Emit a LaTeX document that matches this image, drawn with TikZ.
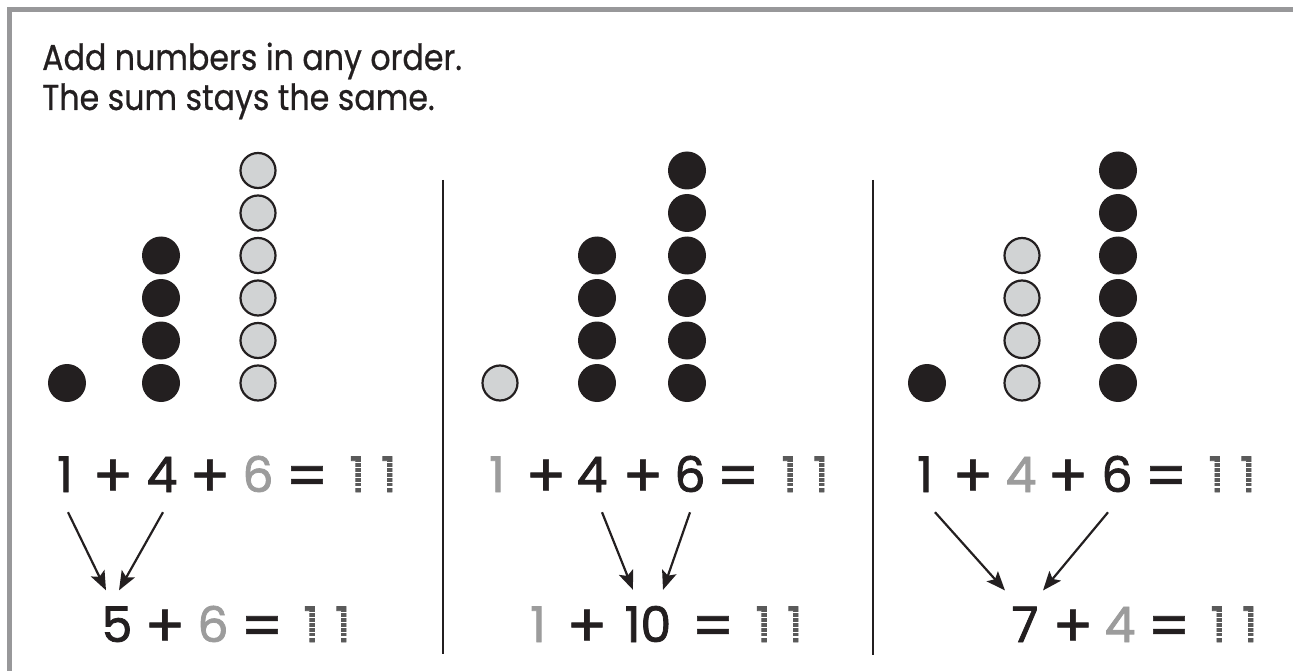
\documentclass[tikz,border=0pt]{standalone}
\usepackage{fontspec}
\setmainfont{Poppins}
\newfontfamily\headfont[FakeStretch=0.88,FakeBold=0.6]{Poppins}
\newfontfamily\tokfont[FakeBold=1.6]{Poppins}
\newfontfamily\opfont[FakeBold=1.0]{Poppins}
\usetikzlibrary{arrows.meta}
\definecolor{ink}{HTML}{231F20}
\definecolor{lgray}{HTML}{9C9C9C}
\definecolor{dgray}{HTML}{5A5A5A}
\definecolor{dotfill}{HTML}{D1D3D4}
\definecolor{frame}{HTML}{98989A}
\tikzset{
  head/.style={anchor=base west,inner sep=0pt,text=ink,font=\headfont\fontsize{36}{40}\selectfont},
  tok/.style={anchor=base,inner sep=0pt,text=ink,font=\tokfont\fontsize{49}{52}\selectfont},
  op/.style={anchor=base,inner sep=0pt,text=ink,font=\opfont\fontsize{60}{62}\selectfont,yshift=-5pt},
  gtok/.style={tok,text=lgray},
  ans/.style={tok,text=dgray},
  bdot/.style={circle,fill=ink,minimum size=38pt,inner sep=0pt},
  gdot/.style={circle,fill=dotfill,draw=ink,line width=2.2pt,minimum size=35pt,inner sep=0pt},
  sep/.style={draw=ink,line width=1.6pt},
  arr/.style={draw=ink,line width=2.2pt,-{Stealth[length=19pt,width=15pt,inset=4pt]}},
  gap/.style={draw=white,line width=1.4pt}
}
\newcommand{\dashify}[1]{%
  \foreach \k in {1,...,6}
    \draw[gap] ([yshift=\k*4.9pt]#1.base west) -- ([yshift=\k*4.9pt]#1.base east);}
\begin{document}
\begin{tikzpicture}[x=1pt,y=-1pt]
\useasboundingbox (0,0) rectangle (1293,671);
% frame
\draw[frame,line width=5pt] (9.5,671) -- (9.5,9.5) -- (1293,9.5);
% heading
\node[head] (h1) at (42,70) {Add numbers in any order.};
\node[head] (h2) at (42,110) {The sum stays the same.};
% separators
\coordinate (s1t) at (443,180); \coordinate (s1b) at (443,654);
\coordinate (s2t) at (873,180); \coordinate (s2b) at (873,655);
\draw[sep] (s1t) -- (s1b);
\draw[sep] (s2t) -- (s2b);
% panel 1 dots
\node[bdot] (d1a) at (67,383) {};
\foreach \i in {0,...,3} \node[bdot] (d1b\i) at (161,{383-42.5*\i}) {};
\foreach \i in {0,...,5} \node[gdot] (d1c\i) at (258,{383-42.5*\i}) {};
% panel 2 dots
\node[gdot] (d2a) at (500,383) {};
\foreach \i in {0,...,3} \node[bdot] (d2b\i) at (597,{383-42.5*\i}) {};
\foreach \i in {0,...,5} \node[bdot] (d2c\i) at (687,{383-42.5*\i}) {};
% panel 3 dots
\node[bdot] (d3a) at (927,383) {};
\foreach \i in {0,...,3} \node[gdot] (d3b\i) at (1022,{383-42.5*\i}) {};
\foreach \i in {0,...,5} \node[bdot] (d3c\i) at (1118,{383-42.5*\i}) {};
% panel 1 equations
\node[tok] (p1a) at (65,492) {1};
\node[op] (p1p1) at (113,492) {+};
\node[tok] (p1b) at (162,492) {4};
\node[op] (p1p2) at (210,492) {+};
\node[gtok] (p1c) at (258,492) {6};
\node[op] (p1e) at (307,492) {=};
\node[ans] (p1s) at (373,492) {1\kern16pt1};
\node[tok] (q1a) at (117,642) {5};
\node[op] (q1p) at (165,642) {+};
\node[gtok] (q1b) at (213,642) {6};
\node[op] (q1e) at (262,642) {=};
\node[ans] (q1s) at (327,642) {1\kern16pt1};
\draw[arr] ([xshift=3pt,yshift=-20pt]p1a.south) -- ([xshift=-11pt,yshift=16pt]q1a.north);
\draw[arr] ([xshift=1pt,yshift=-20pt]p1b.south) -- ([xshift=2pt,yshift=16pt]q1a.north);
% panel 2 equations
\node[gtok] (p2a) at (497,492) {1};
\node[op] (p2p1) at (546,492) {+};
\node[tok] (p2b) at (592,492) {4};
\node[op] (p2p2) at (643,492) {+};
\node[tok] (p2c) at (690,492) {6};
\node[op] (p2e) at (738,492) {=};
\node[ans] (p2s) at (805,492) {1\kern16pt1};
\node[gtok] (q2a) at (538,642) {1};
\node[op] (q2p) at (587,642) {+};
\node[tok] (q2b) at (648,642) {10};
\node[op] (q2e) at (713,642) {=};
\node[ans] (q2s) at (779,642) {1\kern16pt1};
\draw[arr] ([xshift=10pt,yshift=-20pt]p2b.south) -- ([xshift=-15pt,yshift=16pt]q2b.north);
\draw[arr] ([xshift=0pt,yshift=-20pt]p2c.south) -- ([xshift=15pt,yshift=16pt]q2b.north);
% panel 3 equations
\node[tok] (p3a) at (925,492) {1};
\node[op] (p3p1) at (973,492) {+};
\node[gtok] (p3b) at (1021,492) {4};
\node[op] (p3p2) at (1068,492) {+};
\node[tok] (p3c) at (1117,492) {6};
\node[op] (p3e) at (1166,492) {=};
\node[ans] (p3s) at (1232,492) {1\kern16pt1};
\node[tok] (q3a) at (1025,642) {7};
\node[op] (q3p) at (1073,642) {+};
\node[gtok] (q3b) at (1120,642) {4};
\node[op] (q3e) at (1169,642) {=};
\node[ans] (q3s) at (1234,642) {1\kern16pt1};
\draw[arr] ([xshift=10pt,yshift=-20pt]p3a.south) -- ([xshift=-20pt,yshift=16pt]q3a.north);
\draw[arr] ([xshift=-9pt,yshift=-20pt]p3c.south) -- ([xshift=18pt,yshift=16pt]q3a.north);
% dashed look of the traced answers
\dashify{p1s}\dashify{q1s}\dashify{p2s}\dashify{q2s}\dashify{p3s}\dashify{q3s}
\end{tikzpicture}
\end{document}
